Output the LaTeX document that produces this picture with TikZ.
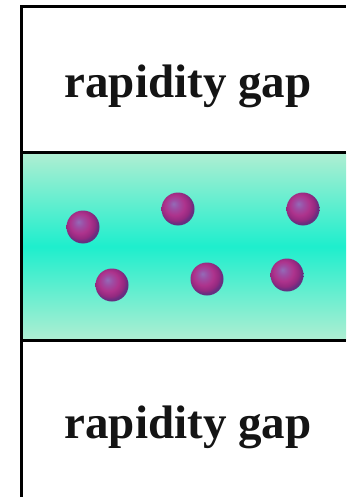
\documentclass[tikz,border=0pt]{standalone}
\usepackage{fontspec}
\setmainfont{Liberation Serif}
\pgfdeclareradialshading{pball}{\pgfpoint{-7bp}{8bp}}{%
  rgb(0bp)=(0.58,0.42,0.72);
  rgb(7bp)=(0.62,0.30,0.64);
  rgb(15bp)=(0.68,0.20,0.55);
  rgb(22bp)=(0.58,0.16,0.50);
  rgb(26bp)=(0.40,0.18,0.50);
  rgb(50bp)=(0.40,0.18,0.50)}
\begin{document}
\begin{tikzpicture}[x=1pt,y=-1pt,
  frame/.style={line width=3pt,black},
  gaplabel/.style={font=\fontsize{47}{52}\selectfont\bfseries,text=black!92,inner sep=0pt},
  particle/.style={circle,minimum size=33pt,inner sep=0pt,shading=pball}]
\useasboundingbox (0,0) rectangle (346,497);
\fill[white] (0,0) rectangle (346,497);
% green band
\shade[top color={rgb,255:red,175;green,238;blue,210},bottom color={rgb,255:red,175;green,238;blue,210},middle color={rgb,255:red,30;green,238;blue,205}] (21,153) rectangle (346,340);
% frame lines
\draw[frame] (21,497) -- (21,7) -- (346,7);
\draw[frame] (21,153) -- (346,153);
\draw[frame] (21,340) -- (346,340);
% labels
\node[gaplabel] (top) at (188,86) {rapidity gap};
\node[gaplabel] (bot) at (188,427) {rapidity gap};
% particles
\node[particle] (p1) at (83,227) {};
\node[particle] (p2) at (178,209) {};
\node[particle] (p3) at (303,209) {};
\node[particle] (p4) at (112,285) {};
\node[particle] (p5) at (207,279) {};
\node[particle] (p6) at (287,275) {};
\end{tikzpicture}
\end{document}
